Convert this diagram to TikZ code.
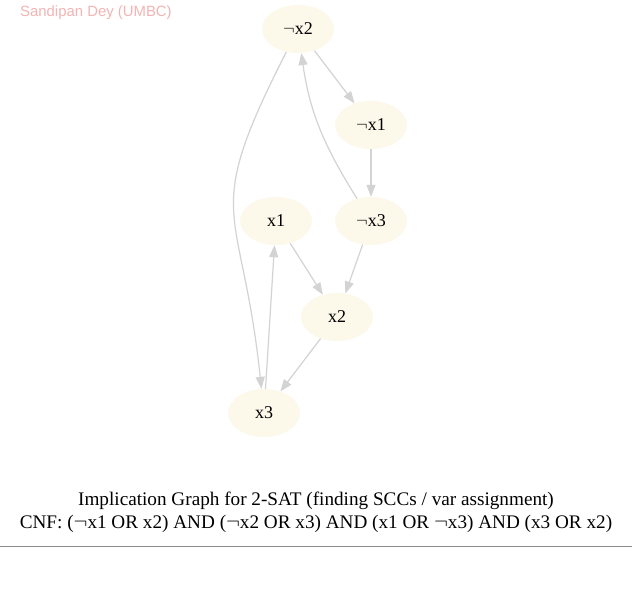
\documentclass[tikz,border=0pt]{standalone}
\usepackage{fontspec}
\setmainfont{Liberation Serif}
\newfontfamily\authorfont{Liberation Sans}
\usetikzlibrary{arrows.meta,%
                shapes.geometric}
\definecolor{vfill}{HTML}{FCF9EB}
\definecolor{efill}{HTML}{D3D3D3}
\definecolor{authorc}{HTML}{F4B4B4}
\definecolor{rulec}{HTML}{8C8C8C}
\tikzset{vert/.style={ellipse, fill=vfill, minimum width=72pt, minimum height=48pt, inner sep=0pt, font=\fontsize{18}{20}\selectfont},
         edg/.style={draw=efill, line width=1.2pt, -{Triangle[length=12pt,width=9pt]}}}
\begin{document}
\begin{tikzpicture}[x=1pt, y=1pt]

\useasboundingbox[fill=white] (0,0) rectangle (632,-592);

\node[vert] (nx2) at (298,-29) {$\neg$x2};
\node[vert] (nx1) at (371,-125) {$\neg$x1};
\node[vert] (x1) at (276,-221) {x1};
\node[vert] (nx3) at (371,-221) {$\neg$x3};
\node[vert] (x2) at (337,-317) {x2};
\node[vert] (x3) at (264,-413) {x3};

\draw[edg] (nx2) -- (nx1);
\draw[edg] (nx1) -- (nx3);
\draw[edg] (nx3) to[out=122,in=-82] (nx2);
\draw[edg] (nx2) to[out=-117,in=96,looseness=1.45] (x3);

\draw[edg] (x1) -- (x2);
\draw[edg] (nx3) -- (x2);
\draw[edg] (x2) -- (x3);
\draw[edg] (x3) -- (x1);

\node[anchor=base west, text=authorc, inner sep=0pt, font=\authorfont\fontsize{14.9}{16}\selectfont] (author) at (20,-16) {Sandipan Dey (UMBC)};

\node[anchor=base, inner sep=0pt, font=\fontsize{19.2}{21}\selectfont] (title) at (316,-505.5) {Implication Graph for 2-SAT (finding SCCs / var assignment)};
\node[anchor=base, inner sep=0pt, font=\fontsize{19.2}{21}\selectfont] (cnf) at (316,-528.5) {CNF: ($\neg$x1 OR x2) AND ($\neg$x2 OR x3) AND (x1 OR $\neg$x3) AND (x3 OR x2)};

\coordinate (ruleL) at (0,-546);
\coordinate (ruleR) at (632,-546);
\draw[rulec, line width=1pt] (ruleL) -- (ruleR);

\end{tikzpicture}
\end{document}
